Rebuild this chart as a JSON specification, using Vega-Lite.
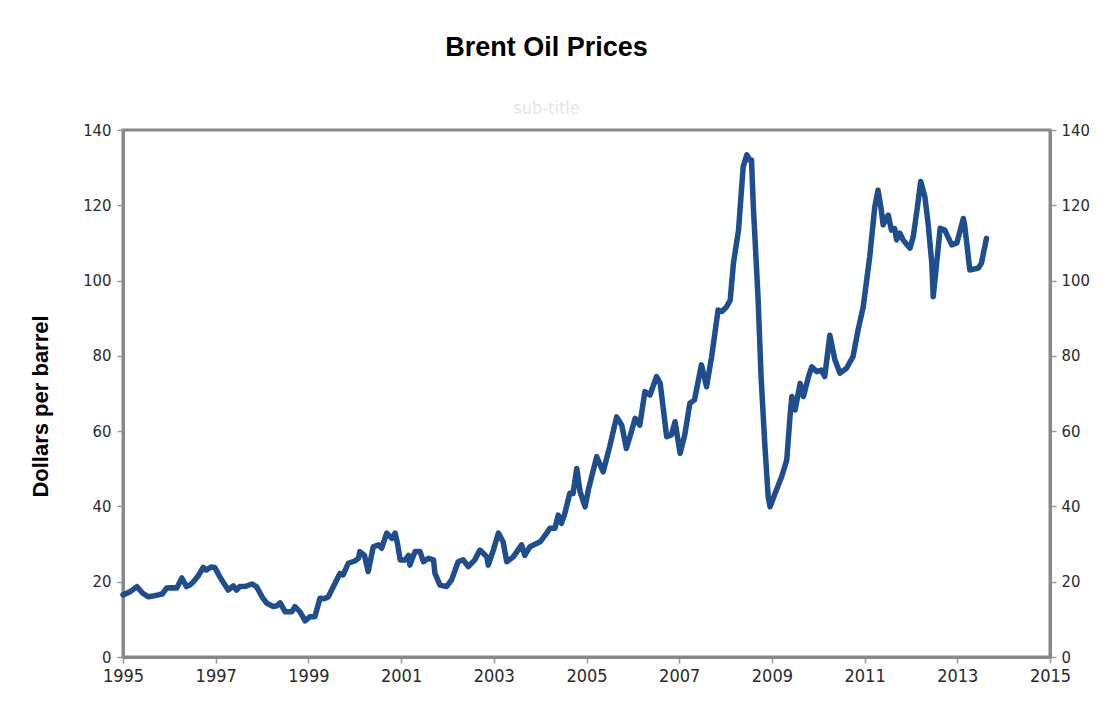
{
  "$schema": "https://vega.github.io/schema/vega-lite/v6.json",
  "width": 927,
  "height": 527,
  "autosize": {"type": "none"},
  "padding": {"left": 123, "top": 130, "right": 51, "bottom": 51},
  "background": "#ffffff",
  "title": {
    "text": "Brent Oil Prices",
    "subtitle": "sub-title",
    "anchor": "middle",
    "dx": -40,
    "offset": 3,
    "font": "Liberation Sans",
    "fontSize": 27,
    "fontWeight": "bold",
    "color": "#000000",
    "subtitleFont": "DejaVu Sans Condensed, Liberation Sans",
    "subtitleFontSize": 18,
    "subtitleColor": "#e6e6e6",
    "subtitlePadding": 38
  },
  "config": {
    "view": {"stroke": "#888888", "strokeWidth": 3},
    "axis": {
      "grid": false,
      "domainColor": "#888888",
      "domainWidth": 3,
      "tickColor": "#999999",
      "tickSize": 6,
      "tickWidth": 1.5,
      "labelFont": "DejaVu Sans Condensed, Liberation Sans Narrow, Liberation Sans",
      "labelFontSize": 16.5,
      "labelColor": "#2a2a2a",
      "labelFlush": false
    }
  },
  "data": {
    "values": [
      {"t": 1995.0, "p": 16.5}, {"t": 1995.15, "p": 17.3}, {"t": 1995.3, "p": 18.7}, {"t": 1995.42, "p": 17.0},
      {"t": 1995.54, "p": 16.0}, {"t": 1995.65, "p": 16.2}, {"t": 1995.76, "p": 16.5}, {"t": 1995.85, "p": 16.8},
      {"t": 1995.94, "p": 18.3}, {"t": 1996.05, "p": 18.4}, {"t": 1996.16, "p": 18.3}, {"t": 1996.27, "p": 21.0},
      {"t": 1996.37, "p": 18.7}, {"t": 1996.45, "p": 19.2}, {"t": 1996.52, "p": 20.0}, {"t": 1996.62, "p": 21.5},
      {"t": 1996.73, "p": 23.8}, {"t": 1996.8, "p": 23.1}, {"t": 1996.9, "p": 23.9}, {"t": 1996.98, "p": 23.8},
      {"t": 1997.09, "p": 21.3}, {"t": 1997.18, "p": 19.5}, {"t": 1997.27, "p": 17.8}, {"t": 1997.38, "p": 18.9},
      {"t": 1997.45, "p": 17.8}, {"t": 1997.52, "p": 18.7}, {"t": 1997.65, "p": 18.8}, {"t": 1997.78, "p": 19.4},
      {"t": 1997.88, "p": 18.7}, {"t": 1998.0, "p": 16.0}, {"t": 1998.1, "p": 14.3}, {"t": 1998.24, "p": 13.4},
      {"t": 1998.32, "p": 13.6}, {"t": 1998.39, "p": 14.4}, {"t": 1998.5, "p": 12.0}, {"t": 1998.64, "p": 12.0},
      {"t": 1998.71, "p": 13.4}, {"t": 1998.82, "p": 12.0}, {"t": 1998.93, "p": 9.6}, {"t": 1999.03, "p": 10.7},
      {"t": 1999.14, "p": 10.7}, {"t": 1999.25, "p": 15.6}, {"t": 1999.35, "p": 15.5}, {"t": 1999.43, "p": 16.0},
      {"t": 1999.54, "p": 18.7}, {"t": 1999.68, "p": 22.2}, {"t": 1999.75, "p": 21.8}, {"t": 1999.86, "p": 24.9},
      {"t": 2000.0, "p": 25.5}, {"t": 2000.08, "p": 26.2}, {"t": 2000.11, "p": 28.0}, {"t": 2000.21, "p": 27.0},
      {"t": 2000.29, "p": 22.7}, {"t": 2000.4, "p": 29.3}, {"t": 2000.51, "p": 29.8}, {"t": 2000.58, "p": 28.9},
      {"t": 2000.69, "p": 32.9}, {"t": 2000.8, "p": 31.5}, {"t": 2000.87, "p": 32.9}, {"t": 2000.92, "p": 30.3},
      {"t": 2000.98, "p": 25.8}, {"t": 2001.09, "p": 25.8}, {"t": 2001.16, "p": 27.0}, {"t": 2001.19, "p": 24.4},
      {"t": 2001.3, "p": 28.0}, {"t": 2001.41, "p": 28.0}, {"t": 2001.48, "p": 25.3}, {"t": 2001.59, "p": 26.2},
      {"t": 2001.7, "p": 25.8}, {"t": 2001.73, "p": 22.2}, {"t": 2001.84, "p": 19.1}, {"t": 2001.98, "p": 18.7},
      {"t": 2002.09, "p": 20.5}, {"t": 2002.23, "p": 25.3}, {"t": 2002.34, "p": 25.8}, {"t": 2002.45, "p": 24.0},
      {"t": 2002.59, "p": 25.8}, {"t": 2002.7, "p": 28.4}, {"t": 2002.85, "p": 26.6}, {"t": 2002.88, "p": 24.4},
      {"t": 2002.99, "p": 28.4}, {"t": 2003.1, "p": 32.9}, {"t": 2003.2, "p": 30.6}, {"t": 2003.28, "p": 25.3},
      {"t": 2003.42, "p": 26.6}, {"t": 2003.6, "p": 29.8}, {"t": 2003.67, "p": 27.0}, {"t": 2003.78, "p": 29.3},
      {"t": 2004.0, "p": 30.6}, {"t": 2004.14, "p": 32.9}, {"t": 2004.21, "p": 34.2}, {"t": 2004.32, "p": 34.2},
      {"t": 2004.39, "p": 37.7}, {"t": 2004.46, "p": 35.5}, {"t": 2004.53, "p": 38.0}, {"t": 2004.64, "p": 43.5},
      {"t": 2004.71, "p": 43.4}, {"t": 2004.79, "p": 50.1}, {"t": 2004.86, "p": 44.0}, {"t": 2004.97, "p": 39.9},
      {"t": 2005.04, "p": 44.4}, {"t": 2005.22, "p": 53.2}, {"t": 2005.36, "p": 49.2}, {"t": 2005.5, "p": 55.9},
      {"t": 2005.65, "p": 63.8}, {"t": 2005.76, "p": 61.6}, {"t": 2005.86, "p": 55.4}, {"t": 2005.97, "p": 59.9},
      {"t": 2006.05, "p": 63.4}, {"t": 2006.15, "p": 61.6}, {"t": 2006.26, "p": 70.5}, {"t": 2006.37, "p": 69.6},
      {"t": 2006.51, "p": 74.5}, {"t": 2006.59, "p": 72.7}, {"t": 2006.73, "p": 58.5}, {"t": 2006.83, "p": 59.0},
      {"t": 2006.91, "p": 62.5}, {"t": 2007.02, "p": 54.1}, {"t": 2007.12, "p": 59.0}, {"t": 2007.23, "p": 67.4},
      {"t": 2007.33, "p": 68.3}, {"t": 2007.48, "p": 77.6}, {"t": 2007.59, "p": 71.8}, {"t": 2007.7, "p": 79.8},
      {"t": 2007.84, "p": 92.2}, {"t": 2007.92, "p": 91.8}, {"t": 2008.02, "p": 93.0}, {"t": 2008.1, "p": 94.8},
      {"t": 2008.17, "p": 104.6}, {"t": 2008.28, "p": 113.4}, {"t": 2008.38, "p": 130.2}, {"t": 2008.46, "p": 133.4},
      {"t": 2008.52, "p": 132.0}, {"t": 2008.56, "p": 132.0}, {"t": 2008.6, "p": 119.6}, {"t": 2008.7, "p": 95.7},
      {"t": 2008.77, "p": 73.6}, {"t": 2008.85, "p": 55.9}, {"t": 2008.92, "p": 42.6}, {"t": 2008.96, "p": 39.9},
      {"t": 2009.07, "p": 43.5}, {"t": 2009.21, "p": 47.9}, {"t": 2009.32, "p": 52.3}, {"t": 2009.39, "p": 63.8},
      {"t": 2009.43, "p": 69.2}, {"t": 2009.5, "p": 65.6}, {"t": 2009.61, "p": 72.7}, {"t": 2009.68, "p": 69.2},
      {"t": 2009.79, "p": 74.5}, {"t": 2009.86, "p": 77.1}, {"t": 2009.97, "p": 75.8}, {"t": 2010.07, "p": 76.2},
      {"t": 2010.14, "p": 74.5}, {"t": 2010.25, "p": 85.5}, {"t": 2010.36, "p": 78.9}, {"t": 2010.47, "p": 75.4},
      {"t": 2010.61, "p": 76.7}, {"t": 2010.75, "p": 79.8}, {"t": 2010.86, "p": 86.9}, {"t": 2010.97, "p": 93.0},
      {"t": 2011.11, "p": 106.3}, {"t": 2011.22, "p": 119.6}, {"t": 2011.29, "p": 124.0}, {"t": 2011.36, "p": 118.8},
      {"t": 2011.4, "p": 114.8}, {"t": 2011.51, "p": 117.4}, {"t": 2011.58, "p": 113.4}, {"t": 2011.65, "p": 113.8},
      {"t": 2011.69, "p": 110.8}, {"t": 2011.76, "p": 112.6}, {"t": 2011.83, "p": 110.8}, {"t": 2011.98, "p": 108.6},
      {"t": 2012.05, "p": 111.7}, {"t": 2012.14, "p": 119.6}, {"t": 2012.21, "p": 126.3}, {"t": 2012.3, "p": 122.3},
      {"t": 2012.37, "p": 115.2}, {"t": 2012.45, "p": 104.6}, {"t": 2012.48, "p": 95.7}, {"t": 2012.54, "p": 102.8},
      {"t": 2012.63, "p": 113.9}, {"t": 2012.73, "p": 113.4}, {"t": 2012.88, "p": 109.5}, {"t": 2012.99, "p": 110.0},
      {"t": 2013.13, "p": 116.5}, {"t": 2013.16, "p": 114.6}, {"t": 2013.27, "p": 102.8}, {"t": 2013.45, "p": 103.3},
      {"t": 2013.52, "p": 104.6}, {"t": 2013.63, "p": 111.2}
    ]
  },
  "encoding": {
    "x": {
      "field": "t",
      "type": "quantitative",
      "scale": {"domain": [1995, 2015], "nice": false, "zero": false},
      "axis": {
        "title": null,
        "values": [1995, 1997, 1999, 2001, 2003, 2005, 2007, 2009, 2011, 2013, 2015],
        "format": "d",
        "labelFontSize": 18,
        "labelPadding": 4
      }
    }
  },
  "layer": [
    {
      "mark": {"type": "line", "color": "#1f4e8e", "strokeWidth": 5.5, "strokeJoin": "round", "strokeCap": "round"},
      "encoding": {
        "y": {
          "field": "p",
          "type": "quantitative",
          "scale": {"domain": [0, 140], "nice": false},
          "axis": {
            "orient": "left",
            "title": "Dollars per barrel",
            "titleFont": "Liberation Sans",
            "titleFontSize": 22,
            "titleFontWeight": "bold",
            "titleColor": "#000000",
            "titlePadding": 30,
            "titleY": 276,
            "values": [0, 20, 40, 60, 80, 100, 120, 140],
            "labelPadding": 6
          }
        }
      }
    },
    {
      "mark": {"type": "line", "opacity": 0},
      "encoding": {
        "y": {
          "field": "p",
          "type": "quantitative",
          "scale": {"domain": [0, 140], "nice": false},
          "axis": {
            "orient": "right",
            "title": null,
            "values": [0, 20, 40, 60, 80, 100, 120, 140],
            "labelPadding": 5
          }
        }
      }
    }
  ],
  "resolve": {"scale": {"y": "independent"}}
}
